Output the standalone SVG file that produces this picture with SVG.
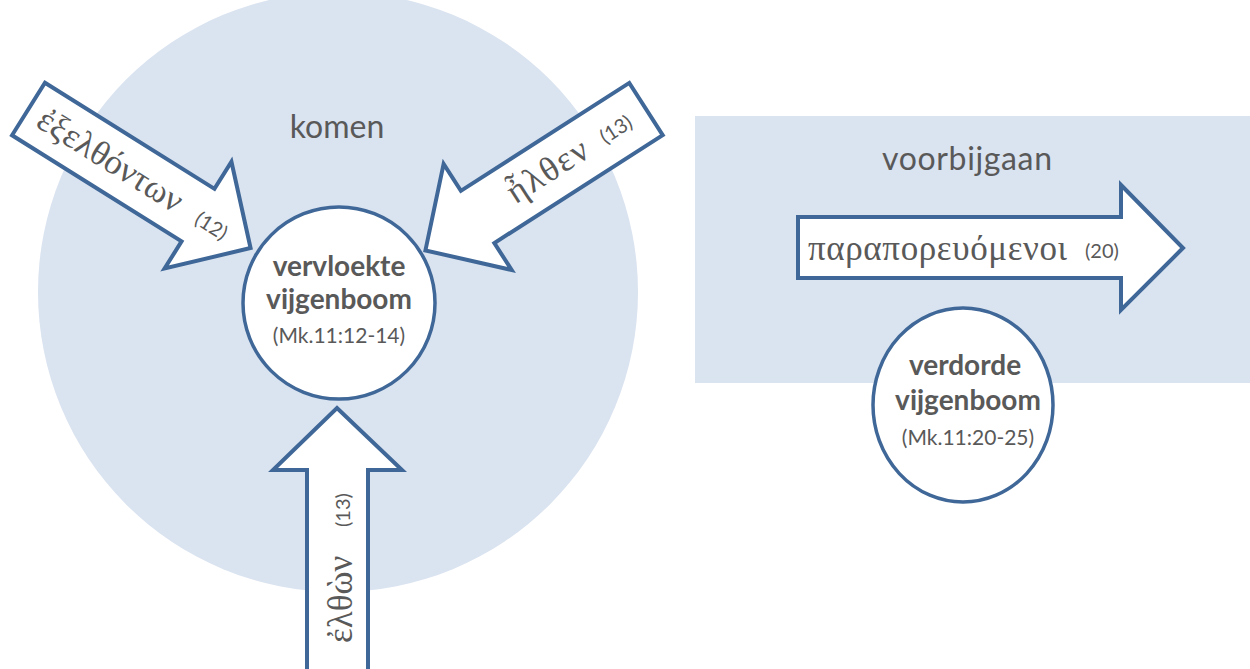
<svg xmlns="http://www.w3.org/2000/svg" width="1250" height="669" viewBox="0 0 1250 669">
<style>
.bg{fill:#dae3f0;stroke:none}
.arrow{fill:#ffffff;stroke:#3f6797;stroke-width:4;stroke-linejoin:miter}
.node{fill:#ffffff;stroke:#3f6797;stroke-width:3.5}
.greek{font-family:"Liberation Serif","DejaVu Serif",serif;font-size:35px;fill:#595959}
.ref{font-family:Lato,"Open Sans",sans-serif;font-size:20px;fill:#595959}
.label{font-family:Lato,"Open Sans",sans-serif;font-size:32px;fill:#595959;text-anchor:middle}
.title{font-family:Lato,"Open Sans",sans-serif;font-size:28px;font-weight:bold;fill:#595959;text-anchor:middle}
.sub{font-family:Lato,"Open Sans",sans-serif;font-size:21px;fill:#595959;text-anchor:middle}
</style>
<defs>
<path id="diagArrow" d="M0,-31 L200,-31 L200,-63 L262,0 L200,63 L200,31 L0,31 Z"/>
</defs>
<g id="backgrounds">
<circle class="bg" cx="338" cy="292" r="300"/>
<rect class="bg" x="695" y="116" width="560" height="267"/>
<text class="label" x="337" y="138">komen</text>
<text class="label" x="967" y="170" textLength="170">voorbijgaan</text>
</g>
<g id="connectors">
<use href="#diagArrow" class="arrow" transform="translate(28.5,109) rotate(32.05)"/>
<use href="#diagArrow" class="arrow" transform="translate(646,109) rotate(147.34)"/>
<path class="arrow" d="M307,675 L307,470 L273,470 L337,408 L402,470 L368,470 L368,675 Z"/>
<path class="arrow" d="M798,217 L1121,217 L1121,185 L1183,248 L1121,310 L1121,278 L798,278 Z"/>
<g transform="translate(28.5,109) rotate(32.05)">
<text class="greek" x="14" y="11">ἐξελθόντων</text>
<text class="ref" x="200" y="9">(12)</text>
</g>
<g transform="translate(426,250) rotate(-32.66)">
<text class="greek" x="100" y="10" textLength="90">ἦλθεν</text>
<text class="ref" x="208" y="8">(13)</text>
</g>
<g transform="translate(352,643) rotate(-90)">
<text class="greek" x="0" y="0">ἐλθὼν</text>
<text class="ref" x="116" y="-2">(13)</text>
</g>
<text class="greek" x="808" y="260" textLength="259">παραπορευόμενοι</text>
<text class="ref" x="1085" y="258">(20)</text>
</g>
<g id="node-vervloekte">
<circle class="node" cx="339" cy="303" r="96"/>
<text class="title" x="339" y="276">vervloekte</text>
<text class="title" x="339" y="309">vijgenboom</text>
<text class="sub" x="339" y="343">(Mk.11:12-14)</text>
</g>
<g id="node-verdorde">
<ellipse class="node" cx="963" cy="405" rx="90" ry="97"/>
<text class="title" x="965" y="375">verdorde</text>
<text class="title" x="968" y="410">vijgenboom</text>
<text class="sub" x="968" y="445">(Mk.11:20-25)</text>
</g>
</svg>
